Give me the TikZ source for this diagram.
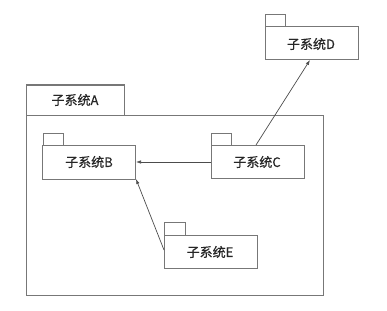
\documentclass[tikz,border=0pt]{standalone}
\usepackage{fontspec}
\newfontfamily\cjk[FakeBold=0.6]{Noto Sans CJK SC}
\usetikzlibrary{arrows.meta}
\definecolor{ln}{HTML}{777777}
\begin{document}
\begin{tikzpicture}[x=1pt,y=-1pt,
  box/.style={draw=ln,line width=1pt},
  lbl/.style={font=\cjk\fontsize{13}{15}\selectfont,text=black!85,inner sep=0pt},
  con/.style={draw=black!70,line width=0.7pt,-{Latex[length=5pt,width=3.5pt]}}]
\useasboundingbox (0,0) rectangle (387,310);
% package A
\draw[box] (26,85) rectangle (124,115);
\draw[box] (26,115) rectangle (323,295);
\node[lbl] (la) at (75,100) {子系统A};
% D
\draw[box] (265,15) rectangle (285,27);
\draw[box] (265,27) rectangle (358,60);
\node[lbl] (ld) at (311,44) {子系统D};
\coordinate (dB) at (310,60);
% B
\draw[box] (43,133) rectangle (63,145);
\draw[box] (42,145) rectangle (135,179);
\node[lbl] (lb) at (89,162) {子系统B};
% C
\draw[box] (211,133) rectangle (231,145);
\draw[box] (211,145) rectangle (304,178);
\node[lbl] (lc) at (257,162) {子系统C};
% E
\draw[box] (164,222) rectangle (185,235);
\draw[box] (164,235) rectangle (257,268);
\node[lbl] (le) at (210,252) {子系统E};
% connectors
\coordinate (cL) at (211,162);
\coordinate (bR) at (136,162);
\coordinate (cT) at (256,145);
\coordinate (eL) at (164,250);
\coordinate (bBR) at (136,179);
\draw[con] (cL) -- (bR);
\draw[con] (cT) -- (dB);
\draw[con] (eL) -- (bBR);
\end{tikzpicture}
\end{document}
